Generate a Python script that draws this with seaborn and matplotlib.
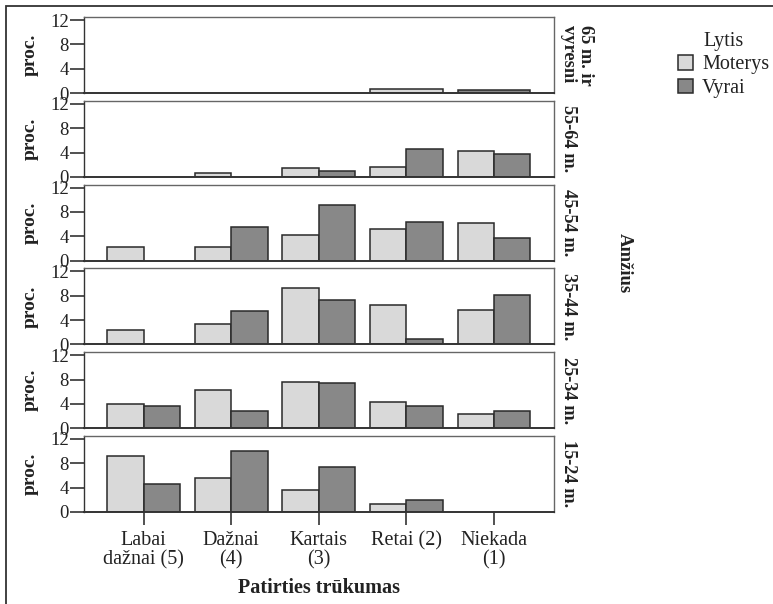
import numpy as np
import pandas as pd
import matplotlib
matplotlib.use('Agg')
import matplotlib.pyplot as plt
from matplotlib.patches import Rectangle
import seaborn as sns

categories = ['Labai\ndažnai (5)', 'Dažnai\n(4)', 'Kartais\n(3)', 'Retai (2)', 'Niekada\n(1)']
ages = ['65 m. ir\nvyresni', '55-64 m.', '45-54 m.', '35-44 m.', '25-34 m.', '15-24 m.']
sexes = ['Moterys', 'Vyrai']

# proc. by age group (rows), values in category order
moterys = [
	[0, 0, 0, 0.75, 0],
	[0, 0.7, 1.4, 1.7, 4.3],
	[2.3, 2.3, 4.2, 5.2, 6.2],
	[2.3, 3.3, 9.2, 6.5, 5.6],
	[4.0, 6.3, 7.6, 4.3, 2.4],
	[9.2, 5.6, 3.6, 1.3, 0],
]
vyrai = [
	[0, 0, 0, 0, 0.45],
	[0, 0, 1.0, 4.6, 3.7],
	[0, 5.5, 9.2, 6.4, 3.7],
	[0, 5.5, 7.3, 0.9, 8.2],
	[3.7, 2.8, 7.4, 3.7, 2.8],
	[4.6, 10.1, 7.4, 1.9, 0],
]

rows = []
for i, age in enumerate(ages):
	for j, cat in enumerate(categories):
		rows.append({'age': age, 'freq': cat, 'sex': 'Moterys', 'proc': moterys[i][j]})
		rows.append({'age': age, 'freq': cat, 'sex': 'Vyrai', 'proc': vyrai[i][j]})
df = pd.DataFrame(rows)
# empty cells are not drawn at all in the original
df = df[df['proc'] > 0]

sns.set_style('ticks')
plt.rcParams['font.family'] = ['Liberation Serif', 'DejaVu Serif']
plt.rcParams['text.color'] = '#222222'
plt.rcParams['axes.labelcolor'] = '#222222'
plt.rcParams['xtick.color'] = '#222222'
plt.rcParams['ytick.color'] = '#222222'

palette = {'Moterys': '#d9d9d9', 'Vyrai': '#888888'}
W, H = 773, 604
fig, axes = plt.subplots(6, 1, figsize=(W / 100, H / 100), dpi=100, sharex=True)
fig.subplots_adjust(left=84 / W, right=553.7 / W, top=1 - 17 / H, bottom=1 - 512 / H, hspace=0.101)

for i, (ax, age) in enumerate(zip(axes, ages)):
	sub = df[df['age'] == age]
	sns.barplot(data=sub, x='freq', y='proc', hue='sex', order=categories, hue_order=sexes,
		palette=palette, edgecolor='#2a2a2a', linewidth=1.1, width=0.83, ax=ax,
		legend=(i == 0), errorbar=None)
	if i == 0:
		handles, labels = ax.get_legend_handles_labels()
		ax.legend_.remove()
	ax.set_ylim(0, 12.5)
	ax.set_xlim(-0.68, 4.68)
	ax.set_yticks([0, 4, 8, 12])
	ax.tick_params(axis='y', length=10, width=1.1, labelsize=13.5, pad=1)
	ax.set_ylabel('proc.', fontsize=14, fontweight='bold')
	ax.yaxis.set_label_coords(-0.097, 0.5)
	ax.set_xlabel('')
	for sp in ax.spines.values():
		sp.set_visible(True)
		sp.set_color('#333333')
		sp.set_linewidth(1.0)
	ax.spines['bottom'].set_linewidth(1.4)
	ax.spines['top'].set_color('#666666')
	ax.spines['right'].set_color('#666666')
	ax.text(1.0134, 0.5, age, transform=ax.transAxes, rotation=-90, ha='left', va='center',
		multialignment='left', fontsize=13.2, fontweight='bold', linespacing=1.0)
	if i < len(ages) - 1:
		ax.tick_params(axis='x', length=0, labelbottom=False)
	else:
		ax.tick_params(axis='x', length=9.5, width=1.1, labelsize=14.5, pad=4)
		for lab in ax.get_xticklabels():
			lab.set_linespacing(1.05)

fig.text(318.9 / W, 1 - 588 / H, 'Patirties trūkumas', ha='center', va='center',
	fontsize=14.5, fontweight='bold')
fig.text(624 / W, 1 - 263 / H, 'Amžius', ha='center', va='center', rotation=-90,
	fontsize=13.5, fontweight='bold')

fig.legend(handles, labels, title='Lytis', loc='upper left', bbox_to_anchor=(670 / W, 1 - 24 / H),
	frameon=False, fontsize=14.5, title_fontsize=14.5, handlelength=0.75, handleheight=0.75,
	handletextpad=0.45, labelspacing=0.2, borderaxespad=0)

fig.patches.append(Rectangle((6 / W, -0.1), 1.2, 1.1 - 6 / H, transform=fig.transFigure,
	fill=False, edgecolor='#333333', linewidth=1.3))

plt.savefig('out.png', dpi=100)
